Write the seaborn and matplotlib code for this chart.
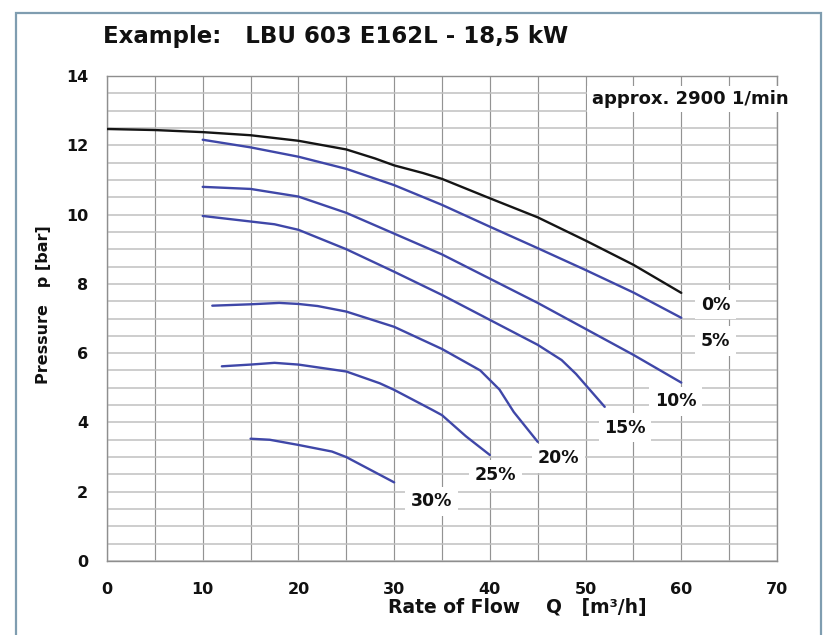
import numpy as np
import pandas as pd
import matplotlib
matplotlib.use('Agg')
import matplotlib.pyplot as plt
import seaborn as sns
from matplotlib.patches import Rectangle
from matplotlib.ticker import MultipleLocator

# Rate of flow Q [m3/h] and pressure p [bar]
q_0 = [0, 5, 10, 15, 20, 25, 28, 30, 33, 35, 40, 45, 50, 55, 60]
p_0 = [12.47, 12.44, 12.38, 12.29, 12.13, 11.88, 11.62, 11.42, 11.2, 11.03, 10.47, 9.92, 9.25, 8.55, 7.74]
q_5 = [10, 15, 20, 25, 30, 35, 40, 45, 50, 55, 60]
p_5 = [12.16, 11.94, 11.67, 11.32, 10.85, 10.28, 9.65, 9.03, 8.4, 7.75, 7.02]
q_10 = [10, 15, 20, 25, 30, 35, 40, 45, 50, 55, 60]
p_10 = [10.8, 10.74, 10.52, 10.05, 9.45, 8.85, 8.15, 7.45, 6.7, 5.95, 5.15]
q_15 = [10, 15, 17.5, 20, 25, 30, 35, 40, 45, 47.5, 49, 52]
p_15 = [9.96, 9.8, 9.72, 9.56, 9.0, 8.35, 7.68, 6.96, 6.24, 5.8, 5.4, 4.45]
q_20 = [11, 15, 18, 20, 22, 25, 30, 35, 39, 41, 42.5, 45]
p_20 = [7.37, 7.41, 7.45, 7.42, 7.36, 7.2, 6.76, 6.12, 5.5, 4.95, 4.3, 3.44]
q_25 = [12, 15, 17.5, 20, 25, 28.5, 30, 34, 35, 37.5, 40]
p_25 = [5.62, 5.67, 5.72, 5.67, 5.47, 5.13, 4.94, 4.36, 4.21, 3.6, 3.06]
q_30 = [15, 17, 20, 23.5, 25, 30]
p_30 = [3.53, 3.5, 3.35, 3.16, 3.0, 2.27]

curve_names = ['0%', '5%', '10%', '15%', '20%', '25%', '30%']
curve_q = [q_0, q_5, q_10, q_15, q_20, q_25, q_30]
curve_p = [p_0, p_5, p_10, p_15, p_20, p_25, p_30]

# where each curve label sits (data coords)
label_q = [63.6, 63.6, 59.4, 54.1, 47.2, 40.6, 33.9]
label_p = [7.40, 6.35, 4.61, 3.85, 2.97, 2.49, 1.72]

title = 'Example:   LBU 603 E162L - 18,5 kW'
speed_note = 'approx. 2900 1/min'

# long format for seaborn
df = pd.concat([
    pd.DataFrame({'q': q, 'p': p, 'curve': name})
    for name, q, p in zip(curve_names, curve_q, curve_p)
], ignore_index=True)

sns.set_style('white')
plt.rcParams['font.family'] = ['DejaVu Sans']
plt.rcParams['font.weight'] = 'bold'
txt_col = '#111111'

fig = plt.figure(figsize=(8.23, 6.35), dpi=100)
ax = fig.add_axes([107/823, 1-561/635, 670/823, 485/635])

blue = '#3f47a8'
palette = {name: (blue if name != '0%' else '#151515') for name in curve_names}
sns.lineplot(data=df, x='q', y='p', hue='curve', palette=palette,
             estimator=None, sort=False, legend=False, lw=1.7, ax=ax, zorder=3)

ax.set_xlim(0, 70)
ax.set_ylim(0, 14)
ax.xaxis.set_major_locator(MultipleLocator(10))
ax.xaxis.set_minor_locator(MultipleLocator(5))
ax.yaxis.set_major_locator(MultipleLocator(2))
ax.yaxis.set_minor_locator(MultipleLocator(0.5))
ax.grid(True, which='both', axis='x', color='#939393', lw=0.85)
ax.grid(True, which='both', axis='y', color='#c0c0c0', lw=1.1)
ax.set_axisbelow(True)
for sp in ax.spines.values():
    sp.set_color('#8e8e8e')
    sp.set_linewidth(1.0)

ax.tick_params(axis='both', which='major', direction='out', length=5, width=1,
               color='#8e8e8e', labelsize=11.5, labelcolor=txt_col)
ax.tick_params(axis='y', which='major', pad=8.5)
ax.tick_params(axis='x', which='major', pad=10)
ax.tick_params(which='minor', length=0)
for lbl in ax.get_xticklabels() + ax.get_yticklabels():
    lbl.set_fontweight('bold')
ax.set_xlabel('')
ax.set_ylabel('')

# curve labels with white boxes that break the grid
for name, lq, lp in zip(curve_names, label_q, label_p):
    ax.text(lq, lp, name, ha='center', va='center', fontsize=12.5, fontweight='bold',
            color=txt_col, zorder=4,
            bbox=dict(facecolor='white', edgecolor='none', pad=4))

ax.text(60.9, 13.34, speed_note, ha='center', va='center', fontsize=13,
        fontweight='bold', color=txt_col, zorder=4, clip_on=False,
        bbox=dict(facecolor='white', edgecolor='none', pad=3))

fig.text(103/823, 1-36/635, title, ha='left', va='center', fontsize=16.5,
         fontweight='bold', color=txt_col)
fig.text(388/823, 1-608/635, 'Rate of Flow    Q   [m³/h]', ha='left', va='center',
         fontsize=13.5, fontweight='bold', color=txt_col)
fig.text(44/823, 1-305/635, 'Pressure   p [bar]', ha='center', va='center',
         rotation=90, fontsize=11.5, fontweight='bold', color=txt_col)

# outer frame
fig.patches.append(Rectangle((16/823, -0.02), (821-16)/823, 0.02+1-13/635,
                             transform=fig.transFigure, fill=False,
                             edgecolor='#7f9db0', lw=1.6))

fig.savefig('out.png', dpi=100, facecolor='white')
